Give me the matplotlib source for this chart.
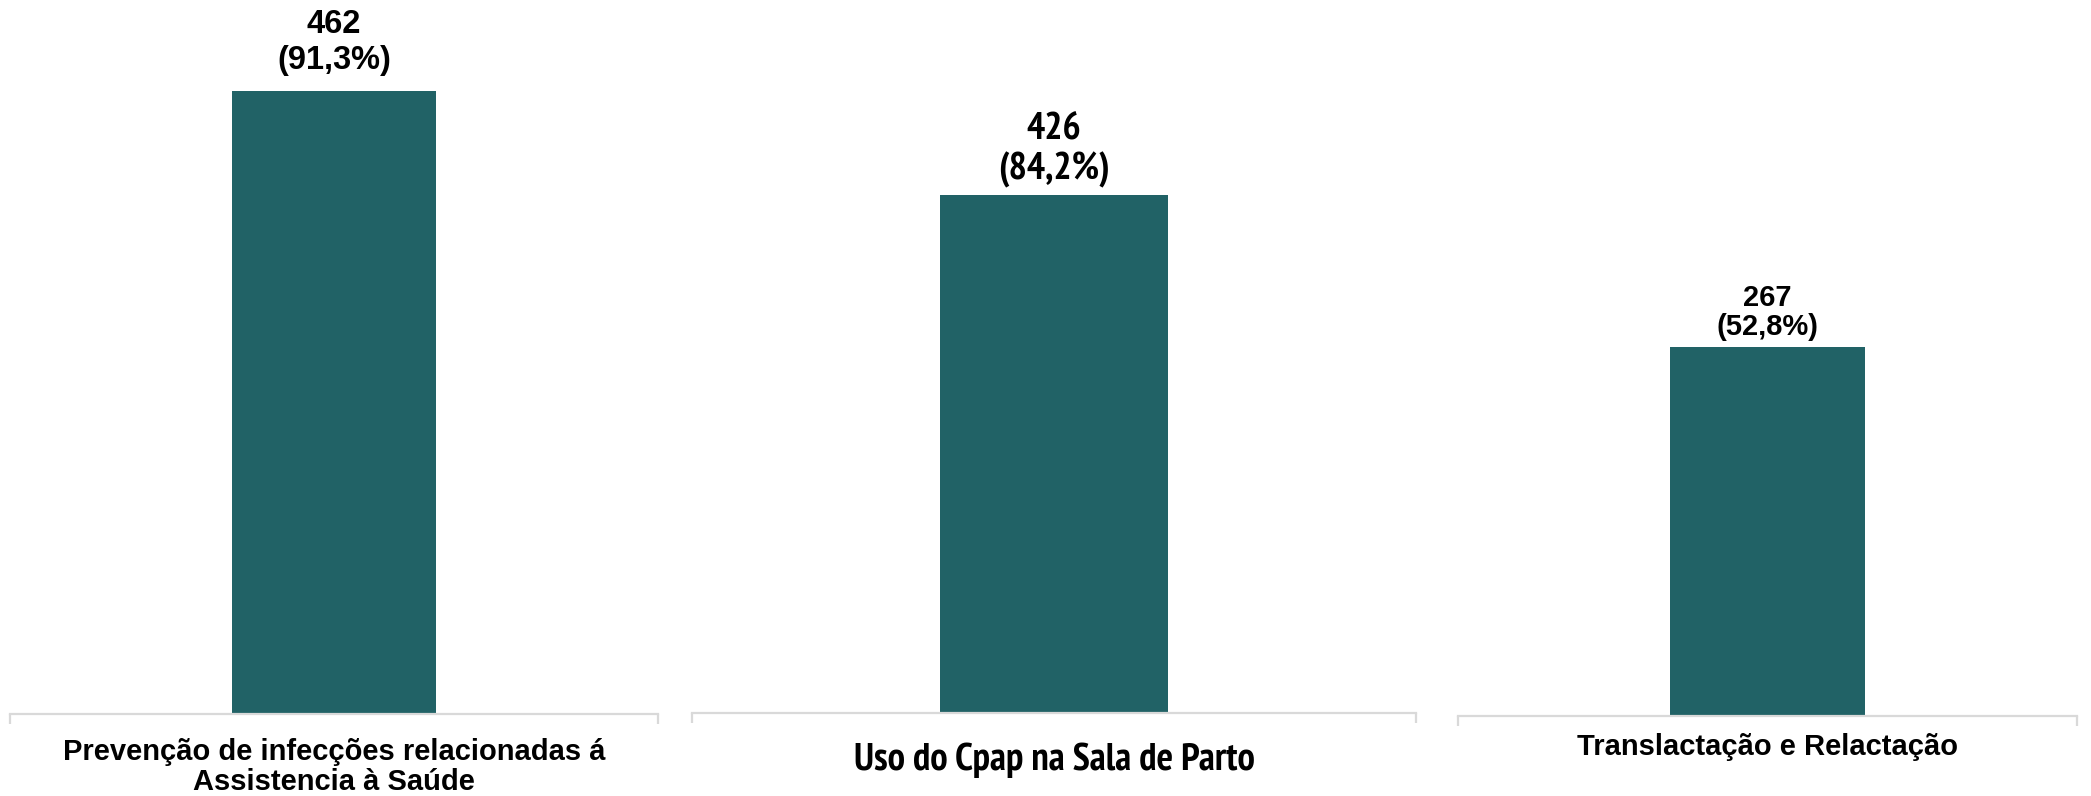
import matplotlib
matplotlib.use("Agg")
from matplotlib import pyplot as plt
from matplotlib import font_manager as fm

# Data
categories = [
    "Prevenção de infecções relacionadas á\nAssistencia à Saúde",
    "Uso do Cpap na Sala de Parto",
    "Translactação e Relactação",
]
counts = [462, 426, 267]
percents = ["91,3%", "84,2%", "52,8%"]

BAR_COLOR = "#216266"
AXIS_COLOR = "#d9d9d9"


def find_narrow_bold():
    # the middle chart uses a narrow bold face (Arial Narrow style)
    fonts = fm.fontManager.ttflist
    for f in fonts:
        if "Narrow" in f.name and f.weight in (700, "bold") and "Italic" not in f.fname:
            return f.fname
    for f in fonts:
        if f.stretch in ("condensed", "semi-condensed") and f.weight in (700, "bold") \
                and f.style == "normal" and "Serif" not in f.name and "Mono" not in f.name:
            return f.fname
    return None


narrow_file = find_narrow_bold()

W, H = 2091, 796
fig = plt.figure(figsize=(W / 100, H / 100), dpi=100)

base_font = dict(family=["Liberation Sans"], weight="bold")
if narrow_file:
    mid_font = dict(fname=narrow_file)
    mid_vsize, mid_lsize = 27.5, 28
else:
    mid_font = base_font
    mid_vsize, mid_lsize = 23, 21.5

# each panel is its own little chart: (x0, x1, baseline) in pixels, y top, fonts
panels = [
    dict(x0=10, x1=658, base=714, ytop=529.5, font=base_font,
         vsize=23.5, lsize=21, vpad=11, lpad=17, vls=1.2, lls=1.12),
    dict(x0=692, x1=1416, base=713, ytop=586.4, font=mid_font,
         vsize=mid_vsize, lsize=mid_lsize, vpad=5, lpad=21, vls=1.15, lls=1.0),
    dict(x0=1458, x1=2077, base=716, ytop=518.1, font=base_font,
         vsize=21, lsize=21, vpad=4, lpad=12, vls=1.05, lls=1.0),
]

for cat, n, pct, p in zip(categories, counts, percents, panels):
    ax = fig.add_axes([p["x0"] / W, 1 - p["base"] / H, (p["x1"] - p["x0"]) / W, p["base"] / H])
    ax.bar([0], [n], width=0.314, color=BAR_COLOR, linewidth=0, zorder=2)
    ax.set_xlim(-0.5, 0.5)
    ax.set_ylim(0, p["ytop"])

    # Hide everything except the bottom axis line
    for side in ["top", "left", "right"]:
        ax.spines[side].set_visible(False)
    ax.spines["bottom"].set_color(AXIS_COLOR)
    ax.spines["bottom"].set_linewidth(1.6)
    ax.set_yticks([])

    # Category label as the single major tick, tick marks at both ends
    label_fp = fm.FontProperties(size=p["lsize"], **p["font"])
    value_fp = fm.FontProperties(size=p["vsize"], **p["font"])
    ax.set_xticks([0])
    ax.set_xticklabels([cat], fontproperties=label_fp, linespacing=p["lls"])
    ax.tick_params(axis="x", which="major", length=0, pad=p["lpad"])
    ax.set_xticks([-0.5, 0.5], minor=True)
    ax.tick_params(axis="x", which="minor", length=7, width=1.6,
                   color=AXIS_COLOR, direction="out")

    # Value label above the bar
    ax.annotate(f"{n}\n({pct})", xy=(0, n), xytext=(0, p["vpad"]),
                textcoords="offset points", ha="center", va="bottom",
                fontproperties=value_fp, linespacing=p["vls"],
                annotation_clip=False)

fig.savefig("out.png", dpi=100)
